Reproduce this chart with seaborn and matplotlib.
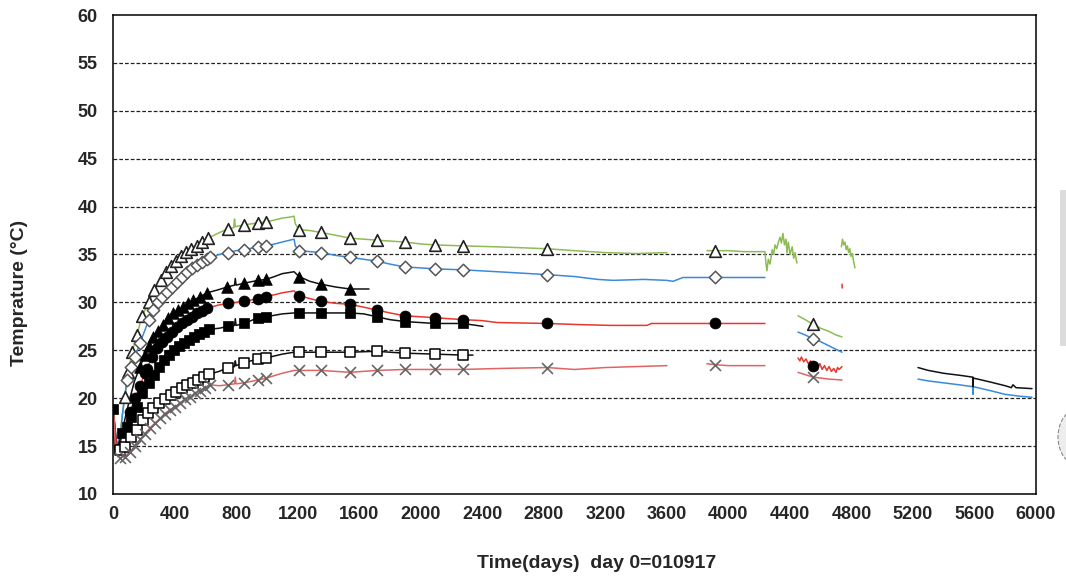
import numpy as np
import pandas as pd
import seaborn as sns
import matplotlib.pyplot as plt
from matplotlib.patches import Rectangle, Ellipse

nan = np.nan

# ---- line data (day, temperature); nan marks a gap in the record ----
green_day = [3, 25, 45, 60, 78, 98, 124, 156, 189, 234, 267, 312, 345, 377, 410, 442, 475, 507, 546, 579,
             618, 680, 748, 785, 790, 795, 852, 900, 943, 995, 1050, 1100, 1150, 1177, 1185, 1209, 1280, 1352,
             1450, 1541, 1630, 1716, 1800, 1898, 2000, 2093, 2275, 2500, 2821, 3000, 3200, 3400, 3601, nan,
             3861, 3913, 4000, 4100, 4238, 4245, 4251, 4260, 4271, 4285, 4295, 4303, 4315, 4325, 4336, 4345,
             4355, 4365, 4375, 4381, 4390, 4401, 4415, 4425, 4433, 4446, nan,
             4453, 4500, 4551, 4600, 4650, 4700, 4739, nan,
             4735, 4742, 4750, 4758, 4766, 4774, 4782, 4790, 4798, 4806, 4814, 4823]
green_temp = [18.5, 15.0, 16.0, 18.3, 20.1, 22.7, 24.8, 26.6, 28.6, 30.0, 31.3, 32.3, 33.2, 33.8, 34.3, 34.8, 35.3,
              35.6, 35.9, 36.3, 36.7, 37.2, 37.7, 37.8, 38.7, 37.9, 38.1, 38.2, 38.3, 38.4, 38.6, 38.8, 38.9, 39.0,
              38.2, 37.6, 37.5, 37.3, 37.0, 36.7, 36.6, 36.5, 36.4, 36.3, 36.1, 36.0, 35.9, 35.8, 35.6, 35.4,
              35.2, 35.1, 35.2, nan,
              35.4, 35.4, 35.4, 35.3, 35.3, 34.0, 33.3, 34.5, 34.0, 35.5, 35.0, 36.0, 35.6, 36.3, 36.8, 36.2,
              37.2, 36.0, 36.6, 35.2, 36.3, 35.0, 35.8, 34.6, 35.2, 34.1, nan,
              28.6, 28.2, 27.7, 27.3, 27.0, 26.6, 26.4, nan,
              35.8, 36.6, 36.0, 36.3, 35.5, 35.9, 35.2, 35.6, 34.8, 35.1, 34.3, 33.6]

blue_day = [3, 25, 50, 70, 91, 117, 143, 176, 205, 234, 260, 293, 319, 351, 384, 416, 449, 481, 514, 546, 579,
            611, 631, 690, 748, 800, 852, 943, 995, 1050, 1100, 1150, 1177, 1185, 1209, 1280, 1352, 1450, 1541,
            1630, 1716, 1800, 1898, 2000, 2093, 2275, 2500, 2821, 3000, 3150, 3250, 3450, 3600, 3640, 3705,
            3800, 3913, 4100, 4238, nan,
            4453, 4500, 4551, 4600, 4650, 4700, 4739, nan,
            5233, 5300, 5400, 5500, 5588, 5589, 5591, 5593, 5700, 5800, 5900, 5974]
blue_temp = [18.5, 15.0, 16.5, 19.5, 21.9, 23.3, 24.3, 25.8, 27.0, 28.2, 29.2, 30.0, 30.6, 31.1, 31.6, 32.1, 32.6,
             33.2, 33.6, 33.9, 34.2, 34.5, 34.7, 35.0, 35.2, 35.4, 35.5, 35.8, 35.9, 36.1, 36.3, 36.5, 36.6, 35.9,
             35.4, 35.3, 35.2, 34.9, 34.7, 34.5, 34.3, 34.0, 33.7, 33.6, 33.5, 33.4, 33.2, 32.9, 32.7, 32.4,
             32.3, 32.4, 32.3, 32.2, 32.6, 32.6, 32.6, 32.6, 32.6, nan,
             26.9, 26.6, 26.2, 25.9, 25.5, 25.1, 24.8, nan,
             22.0, 21.8, 21.6, 21.4, 21.2, 21.9, 20.4, 21.2, 20.8, 20.4, 20.2, 20.1]

tri_day = [3, 25, 50, 80, 110, 140, 176, 208, 234, 260, 293, 325, 358, 390, 423, 455, 488, 520, 566, 611, 680,
           741, 790, 795, 800, 852, 943, 995, 1050, 1100, 1177, 1209, 1280, 1352, 1450, 1541, 1664]
tri_temp = [18.5, 14.8, 15.8, 18.0, 20.0, 21.8, 23.3, 24.5, 25.5, 26.4, 27.0, 27.6, 28.4, 28.9, 29.2, 29.5, 29.9,
            30.2, 30.6, 31.0, 31.3, 31.6, 31.8, 32.5, 31.8, 32.0, 32.3, 32.4, 32.7, 33.0, 33.2, 32.7, 32.2, 31.9,
            31.6, 31.4, 31.4]

circ_day = [3, 25, 50, 80, 111, 143, 176, 208, 221, 254, 286, 319, 351, 384, 416, 449, 481, 514, 546, 579, 611,
            680, 748, 852, 943, 995, 1050, 1100, 1177, 1209, 1280, 1352, 1450, 1541, 1630, 1716, 1800, 1898,
            2000, 2093, 2275, 2400, 2496, 2821, 3000, 3231, 3471, 3500, 3913, 4238, nan,
            4453, 4465, 4475, 4490, 4505, 4520, 4535, 4551, 4565, 4580, 4595, 4610, 4625, 4640, 4655, 4670,
            4685, 4700, 4710, 4720, 4739, nan, 4739, 4740]
circ_temp = [18.5, 14.5, 15.5, 17.3, 18.6, 20.0, 21.3, 22.6, 23.1, 24.3, 25.2, 25.9, 26.4, 26.9, 27.4, 27.8, 28.2,
             28.5, 28.9, 29.1, 29.4, 29.7, 29.9, 30.1, 30.4, 30.6, 30.8, 31.0, 31.2, 30.7, 30.4, 30.1, 29.9,
             29.8, 29.5, 29.2, 28.9, 28.6, 28.5, 28.4, 28.2, 28.1, 27.9, 27.8, 27.7, 27.6, 27.6, 27.8, 27.8,
             27.8, nan,
             24.2, 23.9, 24.3, 23.8, 24.1, 23.6, 23.9, 23.4, 23.7, 23.2, 23.6, 23.0, 23.4, 22.9, 23.3, 22.8,
             23.1, 22.7, 23.2, 23.0, 23.3, nan, 31.9, 31.5]

sq_day = [0, 5, 15, 35, 59, 91, 117, 156, 189, 234, 267, 299, 332, 364, 397, 429, 462, 494, 527, 559, 592, 624,
          690, 748, 790, 795, 800, 852, 943, 995, 1100, 1177, 1209, 1352, 1541, 1630, 1716, 1800, 1898, 2093,
          2275, 2405]
sq_temp = [18.9, 16.0, 14.2, 15.0, 16.4, 17.0, 18.0, 19.1, 20.5, 21.6, 22.4, 23.3, 24.0, 24.5, 25.0, 25.4, 25.8,
           26.1, 26.4, 26.7, 26.9, 27.2, 27.3, 27.5, 27.6, 28.3, 27.6, 27.8, 28.4, 28.5, 28.8, 28.9, 28.9, 28.9,
           28.9, 28.8, 28.5, 28.2, 28.0, 27.8, 27.8, 27.5]

osq_day = [3, 20, 46, 78, 117, 156, 195, 228, 260, 299, 338, 377, 410, 449, 481, 520, 553, 592, 624, 690, 748,
           790, 795, 800, 852, 943, 995, 1100, 1177, 1209, 1352, 1541, 1716, 1800, 1898, 2093, 2275, 2340]
osq_temp = [17.5, 14.3, 14.6, 14.9, 16.0, 16.7, 17.7, 18.5, 19.0, 19.5, 19.9, 20.3, 20.6, 21.1, 21.4, 21.6, 21.9,
            22.2, 22.5, 22.8, 23.2, 23.3, 23.9, 23.4, 23.7, 24.1, 24.2, 24.6, 24.8, 24.8, 24.8, 24.8, 24.9,
            24.8, 24.7, 24.6, 24.5, 24.5]

x_day = [3, 15, 30, 46, 78, 111, 143, 176, 208, 241, 273, 306, 338, 371, 403, 436, 468, 501, 533, 566, 598, 631,
         690, 748, 790, 795, 800, 852, 943, 995, 1100, 1177, 1209, 1352, 1541, 1716, 1898, 2093, 2275, 2500,
         2821, 3000, 3200, 3400, 3601, nan, 3861, 3913, 4000, 4238, nan, 4453, 4551, 4650, 4739]
x_temp = [18.6, 15.0, 13.9, 13.8, 13.9, 14.4, 15.0, 15.7, 16.3, 16.9, 17.4, 17.9, 18.4, 18.8, 19.1, 19.5, 19.9,
          20.1, 20.5, 20.8, 21.1, 21.4, 21.3, 21.4, 21.5, 22.2, 21.5, 21.6, 21.9, 22.1, 22.6, 22.9, 22.9, 22.9,
          22.7, 22.9, 23.0, 23.0, 23.0, 23.1, 23.2, 23.0, 23.2, 23.3, 23.4, nan, 23.6, 23.5, 23.4, 23.4, nan,
          22.7, 22.2, 22.0, 21.9]

late_day = [5233, 5300, 5400, 5500, 5588, 5590, 5591, 5593, 5700, 5800, 5840, 5850, 5870, 5974]
late_temp = [23.2, 22.9, 22.6, 22.4, 22.2, 22.2, 21.2, 22.1, 21.7, 21.3, 21.1, 21.4, 21.1, 21.0]

# ---- marker data ----
green_mk_day = [78, 98, 124, 156, 189, 234, 267, 312, 345, 377, 410, 442, 475, 507, 546, 579, 618, 748, 852,
                943, 995, 1209, 1352, 1541, 1716, 1898, 2093, 2275, 2821, 3913, 4551]
green_mk_temp = [20.1, 22.7, 24.8, 26.6, 28.6, 30.0, 31.3, 32.3, 33.2, 33.8, 34.3, 34.8, 35.3, 35.6, 35.9, 36.3,
                 36.7, 37.7, 38.1, 38.3, 38.4, 37.6, 37.3, 36.7, 36.5, 36.3, 36.0, 35.9, 35.6, 35.4, 27.7]

blue_mk_day = [91, 117, 143, 176, 234, 260, 293, 319, 351, 384, 416, 449, 481, 514, 546, 579, 611, 631, 748, 852,
               943, 995, 1209, 1352, 1541, 1716, 1898, 2093, 2275, 2821, 3913, 4551]
blue_mk_temp = [21.9, 23.3, 24.3, 25.8, 28.2, 29.2, 30.0, 30.6, 31.1, 31.6, 32.1, 32.6, 33.2, 33.6, 33.9, 34.2,
                34.5, 34.7, 35.2, 35.5, 35.8, 35.9, 35.4, 35.2, 34.7, 34.3, 33.7, 33.5, 33.4, 32.9, 32.6, 26.2]

tri_mk_day = [176, 208, 234, 260, 293, 325, 358, 390, 423, 455, 488, 520, 566, 611, 741, 852, 943, 995, 1209,
              1352, 1541]
tri_mk_temp = [23.3, 24.5, 25.5, 26.4, 27.0, 27.6, 28.4, 28.9, 29.2, 29.5, 29.9, 30.2, 30.6, 31.0, 31.6, 32.0,
               32.3, 32.4, 32.7, 31.9, 31.4]

circ_mk_day = [111, 143, 176, 208, 221, 254, 286, 319, 351, 384, 416, 449, 481, 514, 546, 579, 611, 748, 852,
               943, 995, 1209, 1352, 1541, 1716, 1898, 2093, 2275, 2821, 3913, 4551]
circ_mk_temp = [18.6, 20.0, 21.3, 22.6, 23.1, 24.3, 25.2, 25.9, 26.4, 26.9, 27.4, 27.8, 28.2, 28.5, 28.9, 29.1,
                29.4, 29.9, 30.1, 30.4, 30.6, 30.7, 30.1, 29.8, 29.2, 28.6, 28.4, 28.2, 27.8, 27.8, 23.4]

sq_mk_day = [0, 59, 91, 117, 156, 189, 234, 267, 299, 332, 364, 397, 429, 462, 494, 527, 559, 592, 624, 748, 852,
             943, 995, 1209, 1352, 1541, 1716, 1898, 2093, 2275]
sq_mk_temp = [18.9, 16.4, 17.0, 18.0, 19.1, 20.5, 21.6, 22.4, 23.3, 24.0, 24.5, 25.0, 25.4, 25.8, 26.1, 26.4,
              26.7, 26.9, 27.2, 27.5, 27.8, 28.4, 28.5, 28.9, 28.9, 28.9, 28.5, 28.0, 27.8, 27.8]

osq_mk_day = [46, 78, 117, 156, 195, 228, 260, 299, 338, 377, 410, 449, 481, 520, 553, 592, 624, 748, 852, 943,
              995, 1209, 1352, 1541, 1716, 1898, 2093, 2275]
osq_mk_temp = [14.6, 14.9, 16.0, 16.7, 17.7, 18.5, 19.0, 19.5, 19.9, 20.3, 20.6, 21.1, 21.4, 21.6, 21.9, 22.2,
               22.5, 23.2, 23.7, 24.1, 24.2, 24.8, 24.8, 24.8, 24.9, 24.7, 24.6, 24.5]

x_mk_day = [46, 78, 111, 143, 176, 208, 241, 273, 306, 338, 371, 403, 436, 468, 501, 533, 566, 598, 631, 748, 852,
            943, 995, 1209, 1352, 1541, 1716, 1898, 2093, 2275, 2821, 3913, 4551]
x_mk_temp = [13.8, 13.9, 14.4, 15.0, 15.7, 16.3, 16.9, 17.4, 17.9, 18.4, 18.8, 19.1, 19.5, 19.9, 20.1, 20.5, 20.8,
             21.1, 21.4, 21.4, 21.6, 21.9, 22.1, 22.9, 22.9, 22.7, 22.9, 23.0, 23.0, 23.0, 23.2, 23.5, 22.2]

y_ticks = [10, 15, 20, 25, 30, 35, 40, 45, 50, 55, 60]
x_ticks = list(range(0, 6001, 400))

colors = {'green': '#8dbb54', 'blue': '#3b8ad9', 'tri': '#111111', 'circ': '#e8372f',
          'sq': '#111111', 'osq': '#111111', 'x': '#e06464', 'late': '#111111'}

# build a long table, splitting each series into segments at the nan gaps
lines = {'green': (green_day, green_temp), 'blue': (blue_day, blue_temp), 'tri': (tri_day, tri_temp),
         'circ': (circ_day, circ_temp), 'sq': (sq_day, sq_temp), 'osq': (osq_day, osq_temp),
         'x': (x_day, x_temp), 'late': (late_day, late_temp)}
frames = []
for name, (d, t) in lines.items():
    df = pd.DataFrame({'day': d, 'temp': t})
    df['seg'] = name + df['day'].isna().cumsum().astype(str)
    df['series'] = name
    frames.append(df.dropna())
long_df = pd.concat(frames, ignore_index=True)

sns.set_style('white')
plt.rcParams['font.family'] = ['Liberation Sans', 'DejaVu Sans']

fig = plt.figure(figsize=(10.66, 5.81), dpi=100)
ax = fig.add_axes([113 / 1066, 1 - 494 / 581, 923 / 1066, 479 / 581])

sns.lineplot(data=long_df, x='day', y='temp', hue='series', units='seg', estimator=None,
             palette=colors, sort=False, legend=False, linewidth=1.1, ax=ax, zorder=2)

sns.scatterplot(x=green_mk_day, y=green_mk_temp, marker='^', s=70, color='white', edgecolor='#222222',
                linewidth=1.2, ax=ax, zorder=4)
sns.scatterplot(x=blue_mk_day, y=blue_mk_temp, marker='D', s=40, color='white', edgecolor='#555555',
                linewidth=1.1, ax=ax, zorder=4)
sns.scatterplot(x=tri_mk_day, y=tri_mk_temp, marker='^', s=70, color='black', edgecolor='black',
                linewidth=0.5, ax=ax, zorder=4)
sns.scatterplot(x=circ_mk_day, y=circ_mk_temp, marker='o', s=62, color='black', edgecolor='black',
                linewidth=0.5, ax=ax, zorder=4)
sns.scatterplot(x=sq_mk_day, y=sq_mk_temp, marker='s', s=60, color='black', edgecolor='black',
                linewidth=0.5, ax=ax, zorder=4)
sns.scatterplot(x=osq_mk_day, y=osq_mk_temp, marker='s', s=60, color='white', edgecolor='black',
                linewidth=1.1, ax=ax, zorder=4)
sns.scatterplot(x=x_mk_day, y=x_mk_temp, marker='x', s=62, color='#666666', linewidth=1.2, ax=ax, zorder=4)

ax.set_xlim(0, 6000)
ax.set_ylim(10, 60)
ax.set_xticks(x_ticks)
ax.set_yticks(y_ticks)
ax.tick_params(axis='both', direction='out', length=5, width=1, color='black', labelsize=13)
ax.tick_params(axis='y', pad=6)
for lab in ax.get_xticklabels() + ax.get_yticklabels():
    lab.set_fontweight('bold')
for y in y_ticks[1:-1]:
    ax.axhline(y, color='#222222', lw=0.9, linestyle=(0, (3, 1.6)), zorder=1)
for sp in ax.spines.values():
    sp.set_color('black')
    sp.set_linewidth(1.1)

ax.set_xlabel('')
ax.set_ylabel('')
fig.text(597 / 1066, 1 - 564 / 581, 'Time(days)  day 0=010917', ha='center', va='center',
         fontsize=14, fontweight='bold')
fig.text(20 / 1066, 1 - 293 / 581, 'Temprature (°C)', ha='center', va='center', rotation=90,
         fontsize=14, fontweight='bold')

# cropped neighbouring graphic at the right edge
fig.patches.append(Rectangle((1060 / 1066, 1 - 346 / 581), 8 / 1066, 156 / 581, transform=fig.transFigure,
                             facecolor='#dcdcdc', edgecolor='none'))
fig.patches.append(Ellipse((1078 / 1066, 1 - 437 / 581), 40 / 1066, 56 / 581, transform=fig.transFigure,
                           facecolor='#ededed', edgecolor='#888888', linestyle='--', lw=0.8))

fig.savefig('out.png', dpi=100)
